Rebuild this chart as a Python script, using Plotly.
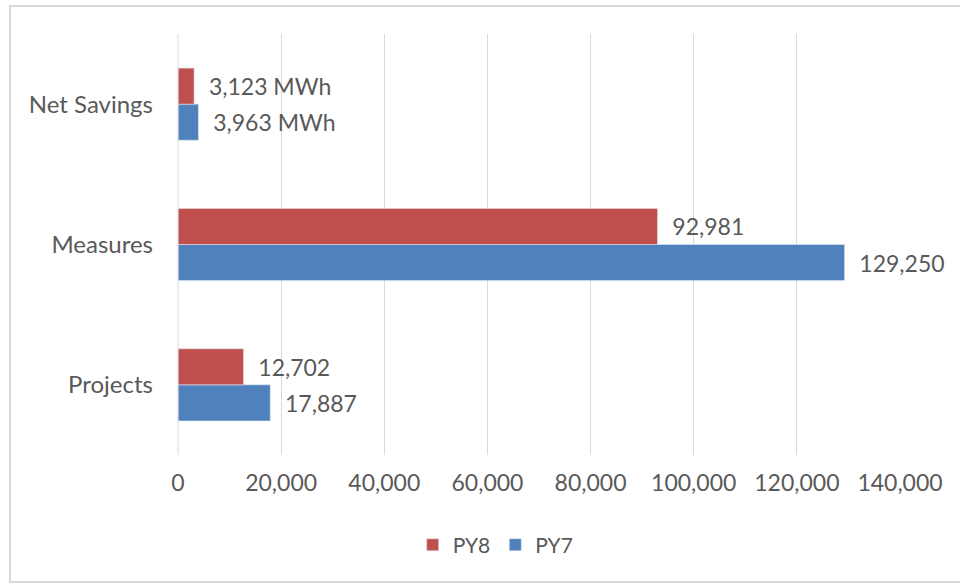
import plotly.graph_objects as go

categories = ["Projects", "Measures", "Net Savings"]
py7_values = [17887, 129250, 3963]
py8_values = [12702, 92981, 3123]
py7_labels = ["17,887", "129,250", "3,963 MWh"]
py8_labels = ["12,702", "92,981", "3,123 MWh"]
x_tickvals = [0, 20000, 40000, 60000, 80000, 100000, 120000, 140000]
x_ticktext = ["0", "20,000", "40,000", "60,000", "80,000", "100,000", "120,000", "140,000"]

FONT = "Lato, 'Open Sans', sans-serif"
GRAY = "#595959"
SIZE = 23
PAD = "\u00a0\u00a0"

fig = go.Figure()
fig.add_trace(go.Bar(
    y=categories, x=py7_values, orientation="h", name="PY7",
    marker=dict(color="#4F81BD"),
    text=[PAD + t for t in py7_labels], textposition="outside",
    textfont=dict(family=FONT, size=SIZE, color=GRAY), cliponaxis=False,
    legendrank=2,
))
fig.add_trace(go.Bar(
    y=categories, x=py8_values, orientation="h", name="PY8",
    marker=dict(color="#C0504D"),
    text=[PAD + t for t in py8_labels], textposition="outside",
    textfont=dict(family=FONT, size=SIZE, color=GRAY), cliponaxis=False,
    legendrank=1,
))

fig.update_layout(
    width=960, height=583,
    margin=dict(l=178, r=60, t=34, b=128, autoexpand=False),
    paper_bgcolor="white", plot_bgcolor="white",
    barmode="group", bargap=0.486, bargroupgap=0,
    font=dict(family=FONT, size=SIZE, color=GRAY),
    xaxis=dict(range=[0, 140000], tickvals=x_tickvals, ticktext=x_ticktext,
               showgrid=True, gridcolor="#D9D9D9", gridwidth=1,
               zeroline=False, showline=False, ticks="", automargin=False,
               ticklabelstandoff=12,
               tickfont=dict(family=FONT, size=SIZE, color=GRAY)),
    yaxis=dict(range=[-0.5, 2.5], showgrid=False, zeroline=False, showline=False,
               ticks="", ticklabelstandoff=24, automargin=False,
               tickfont=dict(family=FONT, size=24, color=GRAY)),
    legend=dict(orientation="h", x=0.44, xanchor="center", y=-0.214, yanchor="middle",
                font=dict(family=FONT, size=21, color=GRAY), itemwidth=30,
                traceorder="normal"),
    showlegend=True,
)

fig.add_shape(type="line", xref="paper", yref="paper",
              x0=0, x1=0, y0=0, y1=1, line=dict(color="#D9D9D9", width=1))

# outer chart border (left, top, bottom visible)
fig.add_shape(type="rect", xref="paper", yref="paper",
              x0=(10 - 178) / 722, x1=(985 - 178) / 722,
              y0=(455 - 582) / 421, y1=(455 - 6) / 421,
              line=dict(color="#D9D9D9", width=2), fillcolor="rgba(0,0,0,0)",
              layer="below")

fig.write_html("out.html", config={"displayModeBar": False},
               post_script="document.body.style.margin='0';")
